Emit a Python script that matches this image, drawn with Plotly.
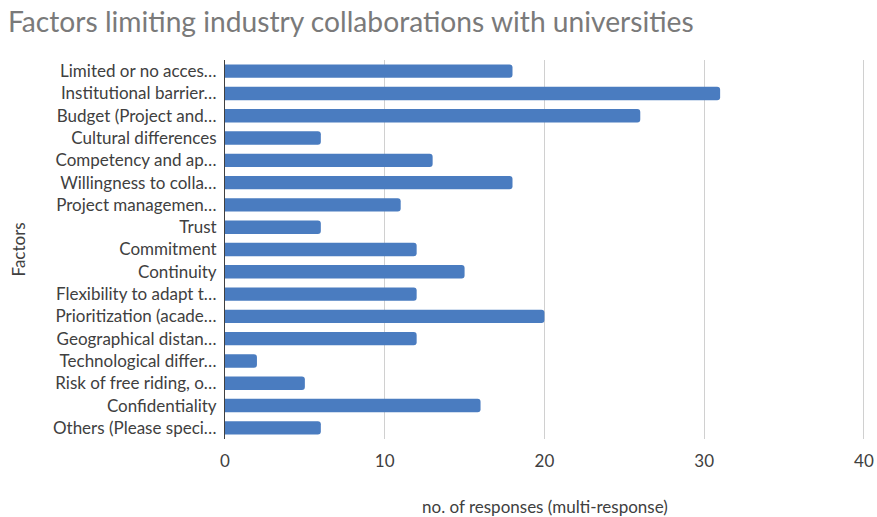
import plotly.graph_objects as go

categories = [
    "Limited or no acces…",
    "Institutional barrier…",
    "Budget (Project and…",
    "Cultural differences",
    "Competency and ap…",
    "Willingness to colla…",
    "Project managemen…",
    "Trust",
    "Commitment",
    "Continuity",
    "Flexibility to adapt t…",
    "Prioritization (acade…",
    "Geographical distan…",
    "Technological differ…",
    "Risk of free riding, o…",
    "Confidentiality",
    "Others (Please speci…",
]
values = [18, 31, 26, 6, 13, 18, 11, 6, 12, 15, 12, 20, 12, 2, 5, 16, 6]
x_ticks = [0, 10, 20, 30, 40]

FONT = "Lato, 'Open Sans', sans-serif"
TXT = "#404040"

fig = go.Figure(
    go.Bar(
        x=values,
        y=categories,
        orientation="h",
        marker=dict(color="#4a7cc0", line=dict(width=0)),
        hoverinfo="x+y",
    )
)

fig.update_layout(
    width=877,
    height=517,
    paper_bgcolor="white",
    plot_bgcolor="white",
    margin=dict(l=225, r=12, t=60, b=78, autoexpand=False),
    bargap=0.4,
    barcornerradius=3,
    font=dict(family=FONT, color=TXT, size=17),
    title=dict(
        text="Factors limiting industry collaborations with universities",
        x=0.009, xanchor="left", y=0.9574, yanchor="middle",
        font=dict(size=28.2, color="#7a7a7a", family=FONT),
    ),
    showlegend=False,
    annotations=[
        dict(text="no. of responses (multi-response)", xref="paper", yref="paper",
             x=0.5, y=-0.1768, xanchor="center", yanchor="middle", showarrow=False,
             font=dict(size=17, color=TXT)),
        dict(text="Factors", xref="paper", yref="paper", textangle=-90,
             x=-0.3234, y=0.5, xanchor="center", yanchor="middle", showarrow=False,
             font=dict(size=17, color=TXT)),
    ],
)

fig.update_xaxes(
    range=[0, 40.07],
    tickvals=x_ticks,
    showgrid=True,
    gridcolor="#d0d0d0",
    gridwidth=1,
    zeroline=False,
    showline=False,
    ticks="",
    automargin=False,
    tickfont=dict(size=17, color=TXT),
    ticklabelstandoff=10,
    ticklabeloverflow="allow",
)

fig.update_yaxes(
    categoryorder="array",
    categoryarray=categories,
    autorange="reversed",
    showline=True,
    linecolor=TXT,
    linewidth=1,
    ticks="",
    showgrid=False,
    automargin=False,
    tickfont=dict(size=17, color=TXT),
    ticklabelstandoff=4,
)

fig.write_html(
    "out.html",
    config={"displayModeBar": False},
    post_script="document.body.style.margin='0';document.body.style.overflow='hidden';",
)
